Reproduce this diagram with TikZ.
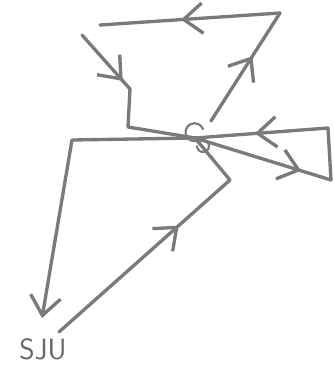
\documentclass[tikz,border=0pt]{standalone}
\usetikzlibrary{calc,arrows.meta,decorations.markings}
\tikzset{
  pencil/.style={color=black!52,line width=2.5pt,line cap=round,line join=round},
  midarrow/.style={postaction={decorate},decoration={markings,
    mark=at position #1 with {\arrow{Straight Barb[length=5mm,width=8mm,line width=2.5pt]}}}},
}

\begin{document}
\begin{tikzpicture}[x=0.75pt,y=-0.75pt,>={Straight Barb[length=5mm,width=8mm]}]
  \useasboundingbox (0,0) rectangle (333,365);
  % waypoints
  \coordinate (O) at (195,138);
  \coordinate (A) at (100,25);
  \coordinate (B) at (280,13);
  \coordinate (C) at (211,121);
  \coordinate (D) at (82,35);
  \coordinate (E) at (130,89);
  \coordinate (F) at (128,127);
  \coordinate (G) at (328,128);
  \coordinate (H) at (331,180);
  \coordinate (I) at (72,140);
  \coordinate (J) at (42,318);
  \coordinate (K) at (59,332);
  \coordinate (L) at (230,180);
  % top loop
  \draw[pencil,midarrow=0.6] (C)--(B);
  \draw[pencil,midarrow=0.55] (B)--(A);
  % left zigzag
  \draw[pencil,midarrow=0.85] (D)--(E);
  \draw[pencil] (E)--(F)--(O);
  % right loop
  \draw[pencil,midarrow=0.78] (O)--(H);
  \draw[pencil] (H)--(G);
  \draw[pencil,midarrow=0.55] (G)--(O);
  % out to the left
  \draw[pencil,->] (O)--(I)--(J);
  % from SJU
  \draw[pencil,midarrow=0.7] (K)--(L);
  \draw[pencil] (L)--(O);
  % curl
  \draw[pencil,line width=1.6pt] ($(O)+(4,2)$) arc (60:340:9);
  \draw[pencil,line width=1.6pt] ($(O)+(2,8)$) arc (180:-120:6);
  \node[text=black!60,font=\sffamily\fontsize{22}{22}\selectfont] (sju) at (43,349) {SJU};
\end{tikzpicture}
\end{document}
